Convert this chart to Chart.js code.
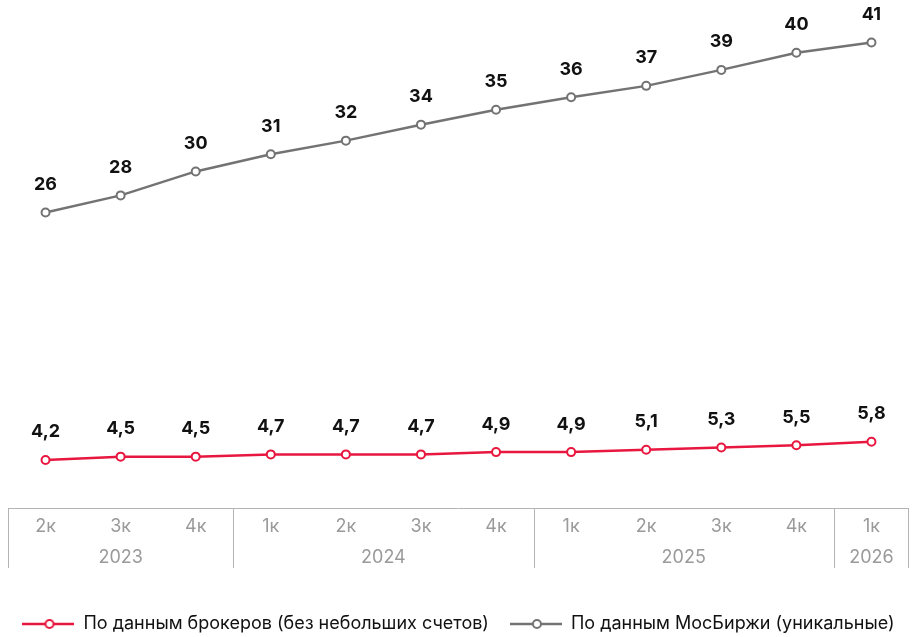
<!DOCTYPE html>
<html lang="ru">
<head>
    <meta charset="UTF-8">
    <title>Число частных инвесторов</title>
    <style>
        html, body { margin: 0; padding: 0; background: #fff; }
        #wrap { width: 917px; height: 637px; }
    </style>
</head>
<body>
    <div id="wrap"><canvas id="investorsChart"></canvas></div>

    <script src="https://cdn.jsdelivr.net/npm/chart.js"></script>
    <script>

        const quarters = ['2к', '3к', '4к', '1к', '2к', '3к', '4к', '1к', '2к', '3к', '4к', '1к'];
        const years = ['2023', '2023', '2023', '2024', '2024', '2024', '2024', '2025', '2025', '2025', '2025', '2026'];

        const brokersName = 'По данным брокеров (без небольших счетов)';
        const brokersValues = [4.2, 4.5, 4.5, 4.7, 4.7, 4.7, 4.9, 4.9, 5.1, 5.3, 5.5, 5.8];

        const moexName = 'По данным МосБиржи (уникальные)';
        const moexValues = [25.9, 27.4, 29.5, 31.0, 32.2, 33.6, 34.9, 36.0, 37.0, 38.4, 39.9, 40.8];
        const moexLabels = ['26', '28', '30', '31', '32', '34', '35', '36', '37', '39', '40', '41'];

        const RED = '#e8173f';
        const GRAY = '#737373';
        const FONT = 'Inter, "Noto Sans", sans-serif';


        function legendIcon(color) {
            const c = document.createElement('canvas');
            c.width = 52;
            c.height = 12;
            const ctx = c.getContext('2d');
            ctx.strokeStyle = color;
            ctx.lineWidth = 2.5;
            ctx.beginPath();
            ctx.moveTo(0, 6);
            ctx.lineTo(52, 6);
            ctx.stroke();
            ctx.fillStyle = '#fff';
            ctx.lineWidth = 2;
            ctx.beginPath();
            ctx.arc(27, 6, 4, 0, Math.PI * 2);
            ctx.fill();
            ctx.stroke();
            return c;
        }


        // value labels above the points
        const valueLabels = {
            id: 'valueLabels',
            afterDatasetsDraw(chart) {
                const ctx = chart.ctx;
                ctx.save();
                ctx.font = 'bold 18px ' + FONT;
                ctx.fillStyle = '#111';
                ctx.textAlign = 'center';
                ctx.textBaseline = 'middle';
                chart.data.datasets.forEach((ds, i) => {
                    chart.getDatasetMeta(i).data.forEach((pt, j) => {
                        ctx.fillText(ds.valueText[j], pt.x, pt.y - 28);
                    });
                });
                ctx.restore();
            }
        };


        // box under the plot with quarter / year grouping
        const periodBox = {
            id: 'periodBox',
            afterDraw(chart) {
                const ctx = chart.ctx;
                const x = chart.scales.x;
                const top = chart.chartArea.bottom;
                const bottom = top + 60;
                const half = (x.getPixelForValue(1) - x.getPixelForValue(0)) / 2;

                ctx.save();
                ctx.strokeStyle = '#b4b4b4';
                ctx.lineWidth = 1;
                ctx.beginPath();
                ctx.moveTo(x.getPixelForValue(0) - half, Math.round(top) + 0.5);
                ctx.lineTo(x.getPixelForValue(years.length - 1) + half, Math.round(top) + 0.5);
                ctx.stroke();

                ctx.font = '18px ' + FONT;
                ctx.fillStyle = '#9a9a9a';
                ctx.textAlign = 'center';
                ctx.textBaseline = 'middle';

                let start = 0;
                for (let i = 1; i <= years.length; i++) {
                    if (i === years.length || years[i] !== years[start]) {
                        const left = x.getPixelForValue(start) - half;
                        const right = x.getPixelForValue(i - 1) + half;
                        ctx.beginPath();
                        ctx.moveTo(Math.round(left) + 0.5, top);
                        ctx.lineTo(Math.round(left) + 0.5, bottom);
                        if (i === years.length) {
                            ctx.moveTo(Math.round(right) - 0.5, top);
                            ctx.lineTo(Math.round(right) - 0.5, bottom);
                        }
                        ctx.stroke();
                        ctx.fillText(years[start], (left + right) / 2, top + 50);
                        start = i;
                    }
                }
                ctx.restore();
            }
        };


        const data = {
            labels: quarters,
            datasets: [
                {
                    label: brokersName,
                    data: brokersValues,
                    valueText: brokersValues.map(v => v.toFixed(1).replace('.', ',')),
                    borderColor: RED,
                    backgroundColor: '#fff',
                    borderWidth: 2.5,
                    pointRadius: 4,
                    pointBorderWidth: 2,
                    pointBackgroundColor: '#fff',
                    legendIcon: legendIcon(RED)
                },
                {
                    label: moexName,
                    data: moexValues,
                    valueText: moexLabels,
                    borderColor: GRAY,
                    backgroundColor: '#fff',
                    borderWidth: 2.5,
                    pointRadius: 4,
                    pointBorderWidth: 2,
                    pointBackgroundColor: '#fff',
                    legendIcon: legendIcon(GRAY)
                }
            ]
        };


        // empty side axes only keep 8px margins, so the legend can use the full width
        const spacer = {
            display: true,
            grid: { display: false },
            border: { display: false },
            ticks: { display: false },
            afterFit(scale) {
                scale.width = 8;
            }
        };


        const config = {
            type: 'line',
            data: data,
            options: {
                responsive: true,
                maintainAspectRatio: false,
                animation: false,
                layout: {
                    padding: { top: 6, left: 0, right: 0, bottom: -6 }
                },
                plugins: {
                    legend: {
                        position: 'bottom',
                        labels: {
                            usePointStyle: true,
                            pointStyleWidth: 52,
                            padding: 21,
                            color: '#111',
                            font: { family: FONT, size: 18 },
                            generateLabels(chart) {
                                return chart.data.datasets.map((ds, i) => ({
                                    text: ds.label,
                                    pointStyle: ds.legendIcon,
                                    fontColor: '#111',
                                    strokeStyle: ds.borderColor,
                                    fillStyle: '#fff',
                                    lineWidth: 0,
                                    datasetIndex: i
                                }));
                            }
                        }
                    },
                    tooltip: { enabled: false }
                },
                scales: {
                    x: {
                        offset: true,
                        grid: { display: false, offset: true },
                        border: { display: false },
                        ticks: {
                            color: '#9a9a9a',
                            font: { family: FONT, size: 18 },
                            padding: 0,
                            maxRotation: 0,
                            autoSkip: false
                        },
                        afterFit(scale) {
                            scale.height = 86;
                        }
                    },
                    y: Object.assign({ position: 'left', min: 0, max: 44 }, spacer),
                    yRight: Object.assign({ type: 'linear', position: 'right' }, spacer)
                }
            },
            plugins: [valueLabels, periodBox]
        };


        const investorsChart = new Chart(
            document.getElementById('investorsChart'),
            config
        );
    </script>

</body>
</html>
